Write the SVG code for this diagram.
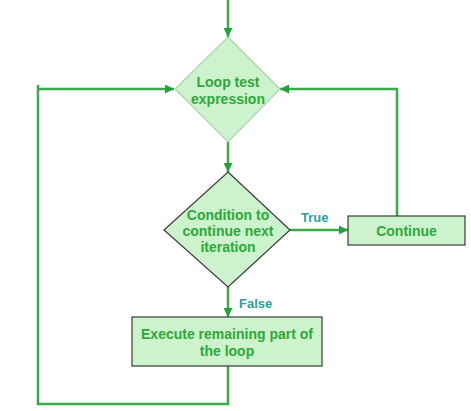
<svg xmlns="http://www.w3.org/2000/svg" width="471" height="411" viewBox="0 0 471 411">
<defs>
<marker id="arr" viewBox="0 0 10 10" refX="10" refY="5" markerWidth="10" markerHeight="9" markerUnits="userSpaceOnUse" orient="auto">
<path d="M0,0 L10,5 L0,10 z" fill="#22a33a"/>
</marker>
</defs>
<style>
.txt{font-family:"Liberation Sans",Arial,sans-serif;font-weight:bold;font-size:14px;fill:#2ea83a;text-anchor:middle;dominant-baseline:central}
.lbl{font-family:"Liberation Sans",Arial,sans-serif;font-weight:bold;font-size:13px;fill:#2a9f9a;dominant-baseline:central}
.edge{fill:none;stroke:#3aab48;stroke-width:2.5}
.fill{fill:#ccf3cc}
</style>
<rect width="471" height="411" fill="#ffffff"/>
<g id="connectors">
<path class="edge" d="M228,0 L228,37" marker-end="url(#arr)"/>
<path class="edge" d="M228,142 L228,172" marker-end="url(#arr)"/>
<path class="edge" d="M290,230 L348,230" marker-end="url(#arr)"/>
<path class="edge" d="M397,216 L397,89 L280,89" marker-end="url(#arr)"/>
<path class="edge" d="M228,287 L228,317" marker-end="url(#arr)"/>
<path class="edge" d="M228,366 L228,404 L38,404 L38,85"/>
<path class="edge" d="M38,89 L174,89" marker-end="url(#arr)"/>
</g>
<g id="loop-test">
<polygon class="fill" points="228,37 280,89 228,142 175,89" stroke="#a9d4a9" stroke-width="1.2"/>
<text class="txt" x="228" y="82">Loop test</text>
<text class="txt" x="228" y="99">expression</text>
</g>
<g id="condition">
<polygon class="fill" points="228,172 290,230 228,287 164,230" stroke="#3a3a3a" stroke-width="1.2"/>
<text class="txt" x="228" y="215">Condition to</text>
<text class="txt" x="228" y="231">continue next</text>
<text class="txt" x="228" y="247">iteration</text>
</g>
<g id="continue">
<rect class="fill" x="348" y="216" width="117" height="29" stroke="#3a3a3a" stroke-width="1.2"/>
<text class="txt" x="406.5" y="231">Continue</text>
</g>
<g id="execute">
<rect class="fill" x="132" y="317" width="190" height="49" stroke="#3a3a3a" stroke-width="1.2"/>
<text class="txt" x="227" y="334">Execute remaining part of</text>
<text class="txt" x="227" y="351">the loop</text>
</g>
<g id="labels">
<text class="lbl" x="301" y="217">True</text>
<text class="lbl" x="239" y="303">False</text>
</g>
</svg>
